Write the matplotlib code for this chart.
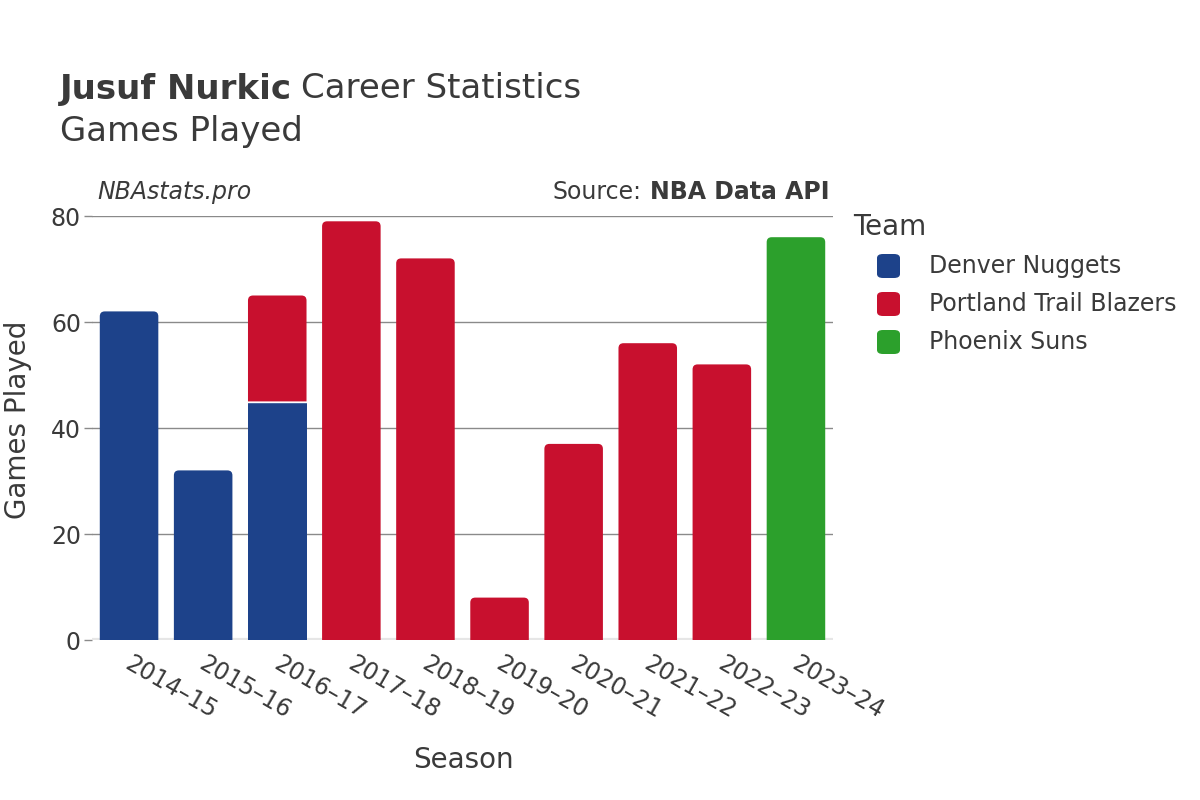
import matplotlib
matplotlib.use("Agg")
import matplotlib.pyplot as plt
import matplotlib.transforms as mtransforms
from matplotlib.path import Path
from matplotlib.patches import PathPatch, FancyBboxPatch

plt.rcParams['font.family'] = ['DejaVu Sans']

seasons = ["2014–15", "2015–16", "2016–17", "2017–18", "2018–19",
           "2019–20", "2020–21", "2021–22", "2022–23", "2023–24"]
teams = ["Denver Nuggets", "Portland Trail Blazers", "Phoenix Suns"]
team_colors = ["#1D428A", "#C8102E", "#2CA02C"]
denver = [62, 32, 45, 0, 0, 0, 0, 0, 0, 0]
portland = [0, 0, 20, 79, 72, 8, 37, 56, 52, 0]
phoenix = [0, 0, 0, 0, 0, 0, 0, 0, 0, 76]
series = [denver, portland, phoenix]
yticks = [0, 20, 40, 60, 80]

TXT = "#3a3a3a"
W, H = 1200, 800
fig = plt.figure(figsize=(12, 8), dpi=100)
ax = fig.add_axes([92 / W, 1 - 640 / H, (833 - 92) / W, (640 - 216) / H])
ax.set_xlim(-0.5, len(seasons) - 0.5)
ax.set_ylim(0, 80)

ax_w_px = 833 - 92
ax_h_px = 640 - 216
dx = (len(seasons)) / ax_w_px
dy = 80 / ax_h_px
bar_w = 0.79
r_px = 5


def draw_bar(x, bottom, height, color, round_top):
    x0, x1 = x - bar_w / 2, x + bar_w / 2
    y0, y1 = bottom, bottom + height
    if round_top:
        rx, ry = r_px * dx, min(r_px * dy, height / 2)
        verts = [(x0, y0), (x1, y0), (x1, y1 - ry), (x1, y1), (x1 - rx, y1),
                 (x0 + rx, y1), (x0, y1), (x0, y1 - ry), (x0, y0)]
        codes = [Path.MOVETO, Path.LINETO, Path.LINETO, Path.CURVE3, Path.CURVE3,
                 Path.LINETO, Path.CURVE3, Path.CURVE3, Path.CLOSEPOLY]
    else:
        verts = [(x0, y0), (x1, y0), (x1, y1), (x0, y1), (x0, y0)]
        codes = [Path.MOVETO, Path.LINETO, Path.LINETO, Path.LINETO, Path.CLOSEPOLY]
    ax.add_patch(PathPatch(Path(verts, codes), facecolor=color, edgecolor="none", zorder=3))


for i in range(len(seasons)):
    bottom = 0
    vals = [s[i] for s in series]
    nz = [k for k, v in enumerate(vals) if v > 0]
    for k in nz:
        draw_bar(i, bottom, vals[k], team_colors[k], round_top=(k == nz[-1]))
        if k != nz[-1]:
            ax.plot([i - bar_w / 2, i + bar_w / 2], [bottom + vals[k]] * 2,
                    color="white", lw=1, zorder=4)
        bottom += vals[k]

# grid and axes
for yv in yticks[1:]:
    ax.axhline(yv, color="#8a8a8a", lw=1, zorder=1)
ax.axhline(0, color="#e6e6e6", lw=3, zorder=2)
for s in ax.spines.values():
    s.set_visible(False)
ax.set_yticks(yticks)
ax.set_yticklabels([str(v) for v in yticks], fontsize=17, color=TXT)
ax.tick_params(axis="y", length=6, color="#8a8a8a", width=1, pad=2)
ax.set_xticks(range(len(seasons)))
ax.set_xticklabels(seasons, rotation=-30, ha="left", va="top",
                   rotation_mode="anchor", fontsize=17, color=TXT)
ax.tick_params(axis="x", length=0, pad=8)
shift = mtransforms.ScaledTranslation(4 / 100, 0, fig.dpi_scale_trans)
for lbl in ax.get_xticklabels():
    lbl.set_transform(lbl.get_transform() + shift)
ax.set_ylabel("Games Played", fontsize=20, color=TXT)
ax.set_xlabel("Season", fontsize=20, color=TXT)
ax.yaxis.set_label_coords(-(92 - 18) / ax_w_px, (640 - 420) / ax_h_px)
ax.yaxis.label.set_va("center")
ax.xaxis.set_label_coords((463 - 92) / ax_w_px, -(760 - 640) / ax_h_px)
ax.xaxis.label.set_va("center")

# titles
renderer = fig.canvas.get_renderer()
t1 = fig.text(60 / W, 1 - 89 / H, "Jusuf Nurkic", fontsize=24.5, fontweight="bold",
              color=TXT, va="center", ha="left")
bb = t1.get_window_extent(renderer)
fig.text(bb.x1 / W + 9 / W, 1 - 89 / H, "Career Statistics", fontsize=24.5,
         color=TXT, va="center", ha="left")
fig.text(60 / W, 1 - 132 / H, "Games Played", fontsize=24.5, color=TXT,
         va="center", ha="left")
fig.text(97 / W, 1 - 192 / H, "NBAstats.pro", fontsize=17, style="italic",
         color=TXT, va="center", ha="left")
t2 = fig.text(830 / W, 1 - 192 / H, "NBA Data API", fontsize=17, fontweight="bold",
              color=TXT, va="center", ha="right")
bb2 = t2.get_window_extent(renderer)
fig.text(bb2.x0 / W - 9 / W, 1 - 192 / H, "Source:", fontsize=17,
         color=TXT, va="center", ha="right")

# legend
fig.text(853 / W, 1 - 227 / H, "Team", fontsize=20, color=TXT, va="center", ha="left")
for k, (name, col) in enumerate(zip(teams, team_colors)):
    yc = 266 + 38 * k
    fig.patches.append(FancyBboxPatch((877 / W, 1 - (yc + 12) / H), 23 / W, 24 / H,
                                      boxstyle="round,pad=0,rounding_size=0.005",
                                      transform=fig.transFigure, facecolor=col,
                                      edgecolor="none", figure=fig))
    fig.text(929 / W, 1 - yc / H, name, fontsize=17, color=TXT, va="center", ha="left")

fig.savefig("out.png", dpi=100, facecolor="white")
